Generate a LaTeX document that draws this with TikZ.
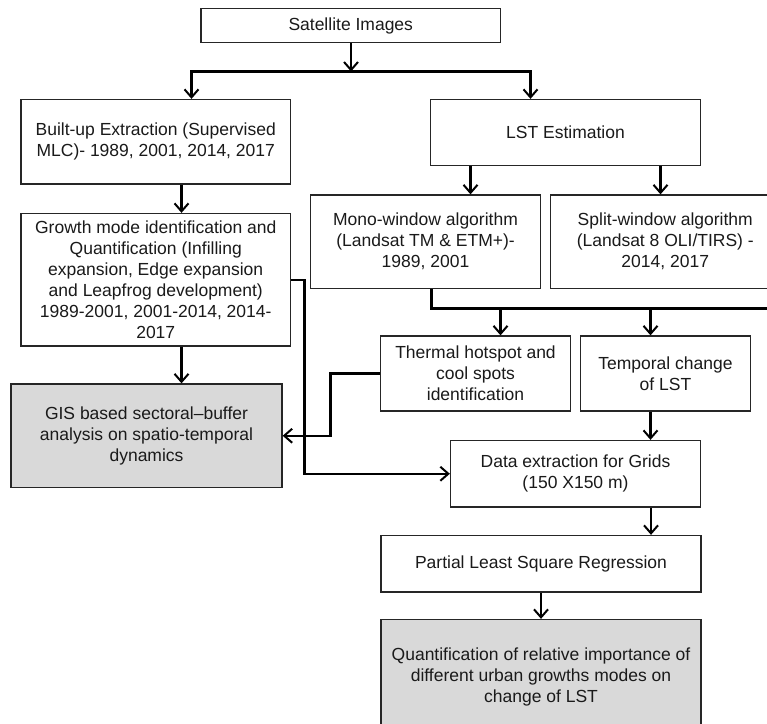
\documentclass[tikz,border=0pt]{standalone}
\usepackage{fontspec}
\setmainfont{Liberation Sans}
\usetikzlibrary{arrows.meta,calc}
\definecolor{boxgray}{HTML}{D9D9D9}
\definecolor{txt}{HTML}{1A1A1A}
\tikzset{
  box/.style={draw=black!85, line width=1.3pt, fill=white, inner sep=0pt, align=center,
    text=txt, font=\fontsize{17.5}{21}\selectfont},
  graybox/.style={box, fill=boxgray},
  arr/.style={line width=2.5pt, -{Straight Barb[length=8pt,width=14pt,line width=2pt]}},
  conn/.style={line width=2.5pt},
}
\begin{document}
\begin{tikzpicture}[x=1pt,y=-1pt]
\useasboundingbox (0,0) rectangle (767,723);
\clip (0,0) rectangle (767,723);
\fill[white] (0,0) rectangle (767,723);

\node[box, minimum width=299.5pt, minimum height=34pt] (sat) at (350.75,25.5) {Satellite Images};
\node[box, minimum width=269.5pt, minimum height=84.5pt] (builtup) at (155.75,141.75)
  {Built-up Extraction (Supervised\\MLC)- 1989, 2001, 2014, 2017};
\node[box, minimum width=269.5pt, minimum height=132.5pt] (growth) at (155.75,279.75)
  {Growth mode identification and\\Quantification (Infilling\\expansion, Edge expansion\\and Leapfrog development)\\1989-2001, 2001-2014, 2014-\\2017};
\node[graybox, minimum width=271pt, minimum height=103.5pt] (gis) at (146.5,435.75)
  {GIS based sectoral--buffer\\analysis on spatio-temporal\\dynamics};
\node[box, minimum width=270pt, minimum height=66pt] (lst) at (565.5,132.5) {LST Estimation};
\node[box, minimum width=230pt, minimum height=93.5pt] (mono) at (425.5,241.75)
  {Mono-window algorithm\\(Landsat TM \& ETM+)-\\1989, 2001};
\node[box, minimum width=229.5pt, minimum height=93.5pt] (split) at (665.25,241.75)
  {Split-window algorithm\\(Landsat 8 OLI/TIRS) -\\2014, 2017};
\node[box, minimum width=190pt, minimum height=75pt] (thermal) at (475.5,373.5)
  {Thermal hotspot and\\cool spots\\identification};
\node[box, minimum width=170pt, minimum height=75pt] (temporal) at (665.5,373.5)
  {Temporal change\\of LST};
\node[box, minimum width=250pt, minimum height=66.5pt] (data) at (575.5,473.75)
  {Data extraction for Grids\\(150 X150 m)};
\node[box, minimum width=320pt, minimum height=56.5pt] (pls) at (541,563.75)
  {Partial Least Square Regression};
\node[graybox, minimum width=320pt, minimum height=115pt] (quant) at (541,677)
  {Quantification of relative importance of\\different urban growths modes on\\change of LST};

% top split
\coordinate (j1) at (351,71.5);
\draw[arr] (sat.south -| j1) -- (j1);
\draw[arr] (j1) -| ([xshift=35.75pt]builtup.north);
\draw[arr] (j1) -| ([xshift=-35pt]lst.north);

% left column
\draw[arr] ([xshift=25.75pt]builtup.south) -- ([xshift=25.75pt]builtup.south |- growth.north);
\draw[arr] ([xshift=35pt]gis.north |- growth.south) -- ([xshift=35pt]gis.north);
\draw[arr] (growth.east) -- ++(13.5,0) |- (data.west);

% LST to algorithms
\draw[arr] ([xshift=-95pt]lst.south) -- ([xshift=-95pt]lst.south |- mono.north);
\draw[arr] ([xshift=95pt]lst.south) -- ([xshift=95pt]lst.south |- split.north);

% bus under algorithms
\coordinate (bus) at (790,308.5);
\draw[conn] ([xshift=6pt]mono.south) |- (bus);
\draw[arr] ([xshift=25pt]thermal.north |- bus) -- ([xshift=25pt]thermal.north);
\draw[arr] ([xshift=-15pt]temporal.north |- bus) -- ([xshift=-15pt]temporal.north);

% thermal to GIS
\draw[arr] (thermal.west) -- ++(-49.5,0) |- (gis.east);

% right column
\draw[arr] ([xshift=-15pt]temporal.south) -- ([xshift=-15pt]temporal.south |- data.north);
\draw[arr] ([xshift=75.5pt]data.south) -- ([xshift=75.5pt]data.south |- pls.north);
\draw[arr] (pls.south) -- (quant.north);
\end{tikzpicture}
\end{document}
